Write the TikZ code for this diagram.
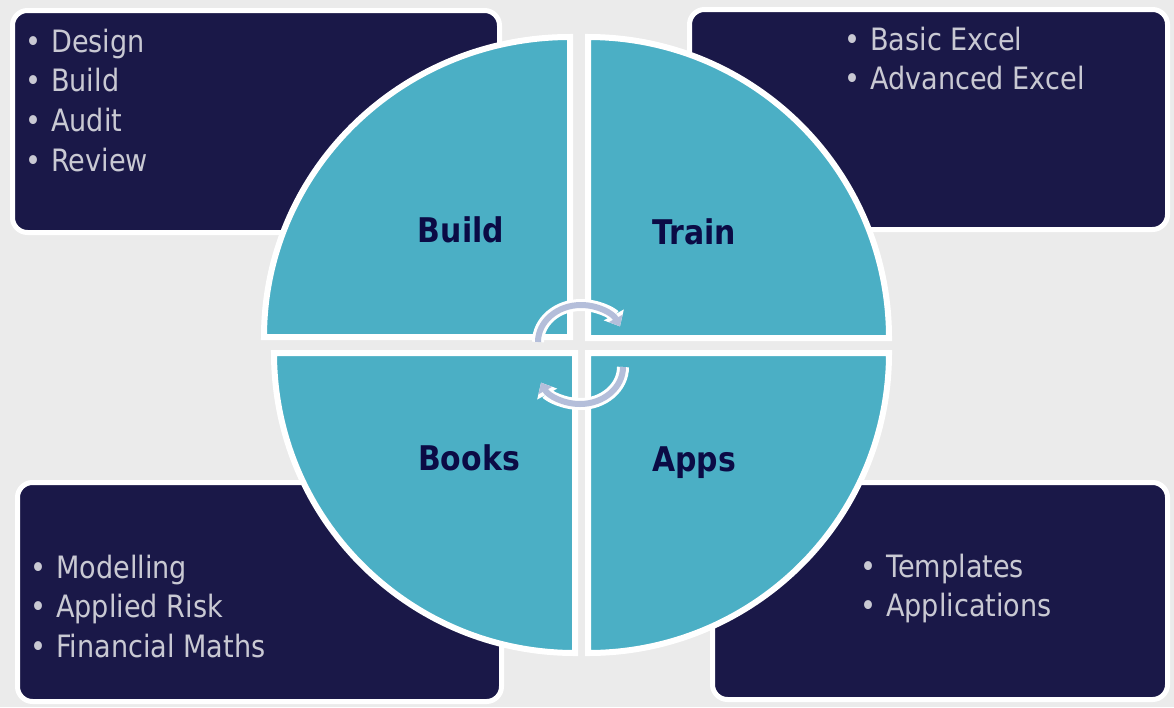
\documentclass[tikz,border=0pt]{standalone}
\usepackage{fontspec}
\setmainfont{DejaVu Sans}[FakeStretch=0.88]
\usetikzlibrary{arrows.meta, positioning}
\definecolor{bgGray}{HTML}{EBEBEB}
\definecolor{panelNavy}{HTML}{1A1848}
\definecolor{quadTeal}{HTML}{4BAFC5}
\definecolor{labelNavy}{HTML}{0B0B45}
\definecolor{itemGray}{HTML}{C9C9D3}
\definecolor{cycleBlue}{HTML}{B4BEDA}

\begin{document}
\begin{tikzpicture}[x=1pt, y=-1pt,
  panel/.style={draw=white, fill=panelNavy, line width=5pt, rounded corners=15pt},
  quad/.style={draw=white, fill=quadTeal, line width=6pt, line join=miter},
  item/.style={anchor=base west, inner sep=0pt, text=itemGray, font=\fontsize{30.8}{36}\selectfont},
  title/.style={inner sep=0pt, text=labelNavy, text height=24pt, text depth=0pt, font=\fontsize{34}{40}\selectfont\bfseries},
  cycw/.style={draw=white, line width=12pt, -{Triangle[length=13pt, width=22pt]}},
  cycb/.style={draw=cycleBlue, line width=6pt, -{Triangle[length=9pt, width=15pt]}}]
  \fill[bgGray] (0,0) rectangle (1174,707);
  \useasboundingbox (0,0) rectangle (1174,707);
  % Panels
  \draw[panel] (12.5,10.5) rectangle (499.5,232.5);
  \draw[panel] (689.5,9.5) rectangle (1167.5,229.5);
  \draw[panel] (17.5,482.5) rectangle (501.5,701.5);
  \draw[panel] (712.5,482.5) rectangle (1167.5,699.5);
  % Panel items
  \foreach \txt [count=\i] in {Design, Build, Audit, Review}
    \node[item] (tl\i) at (25,{52+39.7*(\i-1)}) {\textbullet\hspace{10pt}\txt};
  \foreach \txt [count=\i] in {Basic Excel, Advanced Excel}
    \node[item] (tr\i) at (844,{50+39.7*(\i-1)}) {\textbullet\hspace{10pt}\txt};
  \foreach \txt [count=\i] in {Modelling, Applied Risk, Financial Maths}
    \node[item] (bl\i) at (30,{578+39.7*(\i-1)}) {\textbullet\hspace{10pt}\txt};
  \foreach \txt [count=\i] in {Templates, Applications}
    \node[item] (br\i) at (860,{577+39.7*(\i-1)}) {\textbullet\hspace{10pt}\txt};
  % Quadrants
  \draw[quad] (570,337) -- (264,337) arc[start angle=180, end angle=270, x radius=306, y radius=300] -- cycle;
  \draw[quad] (588,338) -- (889,338) arc[start angle=0, end angle=-90, x radius=301, y radius=301] -- cycle;
  \draw[quad] (575,353) -- (274,353) arc[start angle=180, end angle=90, x radius=301, y radius=300] -- cycle;
  \draw[quad] (588,353) -- (889,353) arc[start angle=0, end angle=90, x radius=301, y radius=300] -- cycle;
  % Cycle arrows
  \draw[cycw] (538,342) arc[start angle=180, end angle=335, x radius=43, y radius=37];
  \draw[cycb] (538,342) arc[start angle=180, end angle=335, x radius=43, y radius=37];
  \draw[cycw] (623,367) arc[start angle=0, end angle=155, x radius=43, y radius=37];
  \draw[cycb] (623,367) arc[start angle=0, end angle=155, x radius=43, y radius=37];
  % Quadrant titles
  \node[title] (build) at (461,230) {Build};
  \node[title] (train) at (694,232) {Train};
  \node[title] (books) at (469,458) {Books};
  \node[title] (apps) at (694,459) {Apps};
\end{tikzpicture}
\end{document}
